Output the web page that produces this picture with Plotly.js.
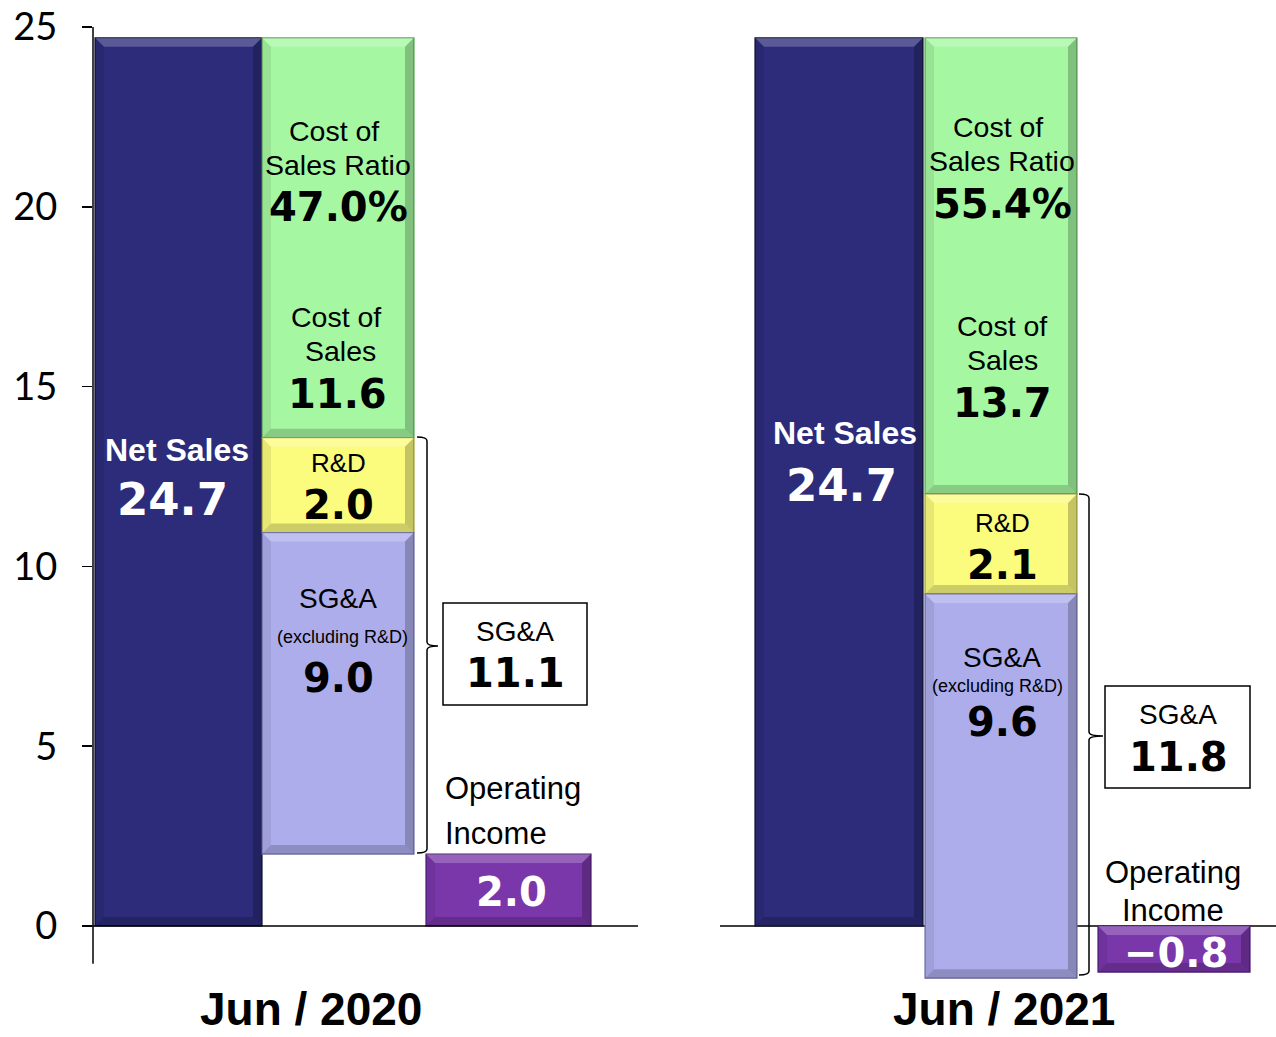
<!DOCTYPE html>
<html>
<head>
<meta charset="utf-8">
<script src="https://cdn.plot.ly/plotly-3.0.1.min.js"></script>
<style>
html,body{margin:0;padding:0;background:#fff;}
#chart{width:1276px;height:1037px;}
</style>
</head>
<body>
<div id="chart"></div>
<script>
// ---------- data ----------
const periods = ["Jun / 2020", "Jun / 2021"];
const categories = ["Net Sales", "Expenses", "Operating Income"];
// bar geometry as drawn in the picture
const netSales = [24.7, 24.7];
const sgaBottom = [2.0, -1.45];
const sgaTop = [10.94, 9.23];
const rdTop = [13.58, 12.01];
const cogsTop = [24.7, 24.7];
const operatingIncome = [2.0, -1.28];
// labels printed on the chart
const netSalesLabel = ["24.7", "24.7"];
const cogsRatioLabel = ["47.0%", "55.4%"];
const cogsLabel = ["11.6", "13.7"];
const rdLabel = ["2.0", "2.1"];
const sgaExLabel = ["9.0", "9.6"];
const sgaTotalLabel = ["11.1", "11.8"];
const opIncLabel = ["2.0", "\u22120.8"];
const yTicks = [0, 5, 10, 15, 20, 25];

// ---------- helpers ----------
const W = 1276, H = 1037;
const px = x => x / W;
const py = y => 1 - y / H;
const Y0PX = 926, PXU = 35.96;           // y=0 pixel row, pixels per unit
const yMin = -1.6, yMax = 25;

// per-panel placement (pixels)
const panels = [
  {axis: "x",  dom: [93, 638],  c0: 178.5, unit: 165,
   bars: [[95, 262], [262, 414], [426, 591]]},
  {axis: "x2", dom: [720, 1276], c0: 839, unit: 167.5,
   bars: [[755, 923], [925, 1077], [1098, 1250]]}
];

const colors = {
  net:  {fill: "#2c2c7b", line: "#111133"},
  cogs: {fill: "#a5f8a1", line: "#5fa85c"},
  rd:   {fill: "#fbfb7e", line: "#a8a840"},
  sga:  {fill: "#adadec", line: "#6f6fa6"},
  op:   {fill: "#7a37aa", line: "#4e1d74"}
};

const traces = [];
const shapes = [];
const annotations = [];

function barTrace(p, catIdx, base, top, col, name) {
  const P = panels[p];
  const [a, b] = P.bars[catIdx];
  const center = P.c0 + P.unit * catIdx;
  const lo = Math.min(base, top), hi = Math.max(base, top);
  return {
    type: "bar", name: name, x: [categories[catIdx]], y: [hi - lo], base: [lo],
    xaxis: P.axis, yaxis: "y",
    width: [(b - a) / P.unit], offset: [(a - center) / P.unit],
    marker: {color: col.fill, line: {color: col.line, width: 1.2}},
    hoverinfo: "skip", showlegend: false
  };
}

// bevel decoration derived from the same bar data
function bevel(p, catIdx, base, top) {
  const [a, b] = panels[p].bars[catIdx];
  const lo = Math.min(base, top), hi = Math.max(base, top);
  const d = 9, dy = d / PXU;
  const X0 = px(a), X1 = px(b), Xi0 = px(a + d), Xi1 = px(b - d);
  const Yt = hi, Yti = hi - dy, Yb = lo, Ybi = lo + dy;
  const common = {xref: "paper", yref: "y", line: {width: 0}, layer: "above"};
  shapes.push(Object.assign({type: "path",
    path: `M ${X0} ${Yt} L ${X1} ${Yt} L ${Xi1} ${Yti} L ${Xi0} ${Yti} Z`,
    fillcolor: "rgba(255,255,255,0.22)"}, common));
  shapes.push(Object.assign({type: "path",
    path: `M ${X1} ${Yt} L ${X1} ${Yb} L ${Xi1} ${Ybi} L ${Xi1} ${Yti} Z`,
    fillcolor: "rgba(0,0,0,0.22)"}, common));
  shapes.push(Object.assign({type: "path",
    path: `M ${X0} ${Yb} L ${X1} ${Yb} L ${Xi1} ${Ybi} L ${Xi0} ${Ybi} Z`,
    fillcolor: "rgba(0,0,0,0.18)"}, common));
  shapes.push(Object.assign({type: "path",
    path: `M ${X0} ${Yt} L ${Xi0} ${Yti} L ${Xi0} ${Ybi} L ${X0} ${Yb} Z`,
    fillcolor: "rgba(0,0,0,0.08)"}, common));
}

for (let p = 0; p < 2; p++) {
  const segs = [
    [0, 0, netSales[p], colors.net, "Net Sales"],
    [1, rdTop[p], cogsTop[p], colors.cogs, "Cost of Sales"],
    [1, sgaTop[p], rdTop[p], colors.rd, "R&D"],
    [1, sgaBottom[p], sgaTop[p], colors.sga, "SG&A"],
    [2, 0, operatingIncome[p], colors.op, "Operating Income"]
  ];
  segs.forEach(s => {
    traces.push(barTrace(p, s[0], s[1], s[2], s[3], s[4]));
    bevel(p, s[0], s[1], s[2]);
  });
}

// axis lines
shapes.push({type: "line", xref: "paper", yref: "y", x0: px(93), x1: px(93), y0: -1.05, y1: 25,
  line: {color: "#000", width: 1.5}, layer: "above"});
shapes.push({type: "line", xref: "paper", yref: "y", x0: px(83), x1: px(638), y0: 0, y1: 0,
  line: {color: "#000", width: 1.5}, layer: "above"});
shapes.push({type: "line", xref: "paper", yref: "y", x0: px(720), x1: px(1276), y0: 0, y1: 0,
  line: {color: "#000", width: 1.5}, layer: "below"});

// brackets
function bracket(x, yTop, yBot, yMid, tipX) {
  const h = 10;
  shapes.push({type: "path", xref: "paper", yref: "paper",
    path: `M ${px(x - h)} ${py(yTop)} Q ${px(x)} ${py(yTop)} ${px(x)} ${py(yTop + 4)} L ${px(x)} ${py(yMid - 4)} Q ${px(x)} ${py(yMid)} ${px(tipX)} ${py(yMid)} Q ${px(x)} ${py(yMid)} ${px(x)} ${py(yMid + 4)} L ${px(x)} ${py(yBot - 4)} Q ${px(x)} ${py(yBot)} ${px(x - h)} ${py(yBot)}`,
    line: {color: "#000", width: 1.5}});
}
bracket(427, 437, 853, 646, 438);
bracket(1089, 494, 975, 736, 1103);

// SG&A boxes
shapes.push({type: "rect", xref: "paper", yref: "paper", x0: px(443), x1: px(587), y0: py(603), y1: py(705),
  line: {color: "#000", width: 1.5}, fillcolor: "#fff"});
shapes.push({type: "rect", xref: "paper", yref: "paper", x0: px(1105), x1: px(1250), y0: py(686), y1: py(788),
  line: {color: "#000", width: 1.5}, fillcolor: "#fff"});

// text
const SANS = "Liberation Sans, Arial, sans-serif";
const NUM = "DejaVu Sans, Verdana, sans-serif";
function txt(t, x, y, size, opts = {}) {
  annotations.push({text: t, x: px(x), y: py(y), xref: "paper", yref: "paper",
    xanchor: opts.anchor || "center", yanchor: opts.vanchor || "middle", showarrow: false,
    borderpad: 0,
    font: {family: opts.family || SANS, size: size, color: opts.color || "#000",
           weight: opts.bold ? "bold" : "normal"}});
}
const T = [
  {ns: [177, 450], nsv: [172, 500], cr1: [334, 131], cr2: [338, 165], crv: [338, 207],
   c1: [336, 317], c2: [340, 351], cv: [337, 394], rd: [338, 463], rdv: [338, 505],
   s1: [338, 598], s2: [342, 637], sv: [338, 678], b1: [515, 631], bv: [515, 673],
   o1: [444, 788, "left"], o2: [444, 833, "left"], ov: [511, 892], cat: [311, 1036]},
  {ns: [845, 433], nsv: [841, 485], cr1: [998, 127], cr2: [1002, 161], crv: [1002, 204],
   c1: [1002, 326], c2: [1002, 360], cv: [1002, 403], rd: [1002, 523], rdv: [1002, 565],
   s1: [1002, 657], s2: [997, 686], sv: [1002, 722], b1: [1178, 714], bv: [1178, 757],
   o1: [1173, 872, "center"], o2: [1173, 910, "center"], ov: [1176, 953], cat: [1004, 1036]}
];
for (let p = 0; p < 2; p++) {
  const t = T[p];
  txt("Net Sales", t.ns[0], t.ns[1], 32, {bold: true, color: "#fff"});
  txt(netSalesLabel[p], t.nsv[0], t.nsv[1], 45, {bold: true, color: "#fff", family: NUM});
  txt("Cost of", t.cr1[0], t.cr1[1], 28.5);
  txt("Sales Ratio", t.cr2[0], t.cr2[1], 28.5);
  txt(cogsRatioLabel[p], t.crv[0], t.crv[1], 40, {bold: true, family: NUM});
  txt("Cost of", t.c1[0], t.c1[1], 28.5);
  txt("Sales", t.c2[0], t.c2[1], 28.5);
  txt(cogsLabel[p], t.cv[0], t.cv[1], 40, {bold: true, family: NUM});
  txt("R&amp;D", t.rd[0], t.rd[1], 26);
  txt(rdLabel[p], t.rdv[0], t.rdv[1], 40, {bold: true, family: NUM});
  txt("SG&amp;A", t.s1[0], t.s1[1], 28);
  txt("(excluding R&amp;D)", t.s2[0], t.s2[1], 18);
  txt(sgaExLabel[p], t.sv[0], t.sv[1], 40, {bold: true, family: NUM});
  txt("SG&amp;A", t.b1[0], t.b1[1], 28);
  txt(sgaTotalLabel[p], t.bv[0], t.bv[1], 40, {bold: true, family: NUM});
  txt("Operating", t.o1[0], t.o1[1], 31, {anchor: t.o1[2]});
  txt("Income", t.o2[0], t.o2[1], 31, {anchor: t.o2[2]});
  txt(opIncLabel[p], t.ov[0], t.ov[1], 40, {bold: true, color: "#fff", family: NUM});
  txt(periods[p], t.cat[0], t.cat[1], 46, {bold: true, vanchor: "bottom"});
}

const xCommon = {type: "category", categoryorder: "array", categoryarray: categories,
  showticklabels: false, showline: false, showgrid: false, zeroline: false, ticks: "",
  fixedrange: true, anchor: "y"};

const layout = {
  width: W, height: H,
  margin: {l: 0, r: 0, t: 0, b: 0},
  paper_bgcolor: "#fff", plot_bgcolor: "rgba(0,0,0,0)",
  barmode: "overlay", showlegend: false,
  xaxis: Object.assign({}, xCommon, {domain: [px(93), px(638)],
    range: [(93 - 178.5) / 165, (638 - 178.5) / 165]}),
  xaxis2: Object.assign({}, xCommon, {domain: [px(720), 1],
    range: [(720 - 839) / 167.5, (1276 - 839) / 167.5]}),
  yaxis: {domain: [1 - (Y0PX - yMin * PXU) / H, 1 - (Y0PX - yMax * PXU) / H],
    range: [yMin, yMax], tickvals: yTicks, ticktext: yTicks.map(String),
    ticks: "outside", ticklen: 10, tickwidth: 1.5, tickcolor: "#000",
    ticklabelstandoff: 17, showline: false, showgrid: false, zeroline: false,
    tickfont: {family: "Lato, Carlito, sans-serif", size: 38, color: "#000"},
    fixedrange: true, anchor: "x"},
  shapes: shapes,
  annotations: annotations
};

Plotly.newPlot("chart", traces, layout, {displayModeBar: false, staticPlot: true});
</script>
</body>
</html>
